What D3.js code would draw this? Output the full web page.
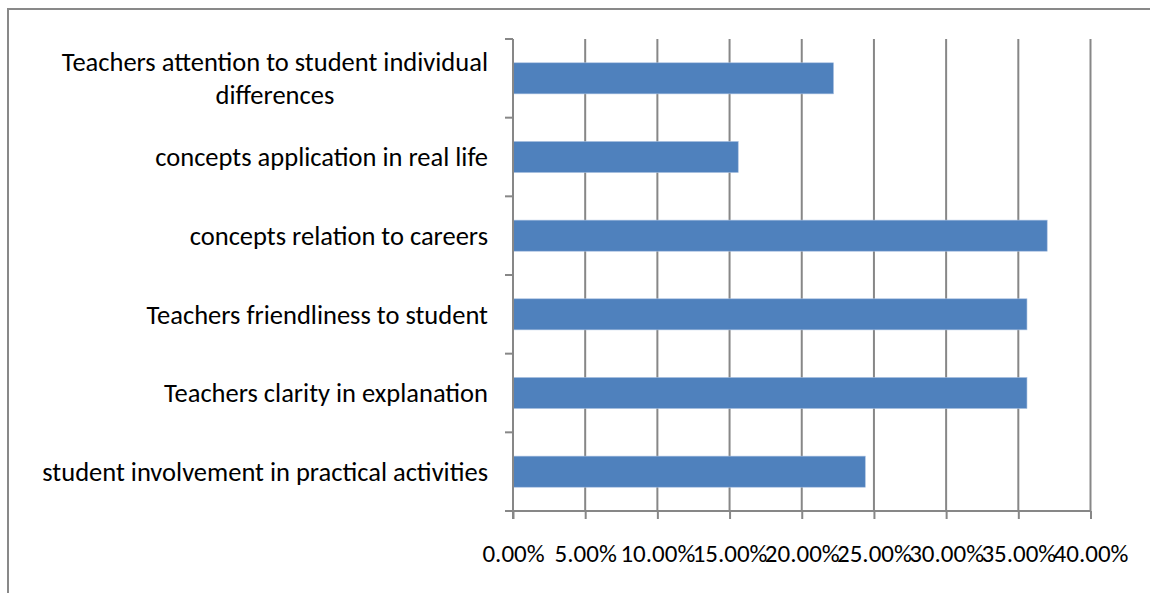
<!DOCTYPE html>
<html>
<head>
<meta charset="utf-8">
<script src="https://cdn.jsdelivr.net/npm/d3@7"></script>
<style>
  body { margin: 0; background: #fff; }
  text { font-family: Carlito, Calibri, Lato, sans-serif; fill: #000; }
</style>
</head>
<body>
<script>
// data, top to bottom as shown
let categories = [
  "Teachers attention to student individual differences",
  "concepts application in real life",
  "concepts relation to careers",
  "Teachers friendliness to student",
  "Teachers clarity in explanation",
  "student involvement in practical activities"
];
let labelLines = [
  ["Teachers attention to student individual", "differences"],
  ["concepts application in real life"],
  ["concepts relation to careers"],
  ["Teachers friendliness to student"],
  ["Teachers clarity in explanation"],
  ["student involvement in practical activities"]
];
let percents = [0.222, 0.156, 0.370, 0.356, 0.356, 0.244];
let tickValues = [0, 0.05, 0.10, 0.15, 0.20, 0.25, 0.30, 0.35, 0.40];

let margin = null, width = null, height = null;
let svg = null;
let x, y = null;

setupCanvasSize();
appendSvg("body");
setupXScale();
setupYScale();
appendGrid();
appendBars();
appendXAxis();
appendYAxis();

function setupCanvasSize() {
  margin = {top: 39, left: 513, bottom: 82, right: 59.5};
  width = 1150 - margin.left - margin.right;
  height = 593 - margin.top - margin.bottom;
}

function appendSvg(domElement) {
  let root = d3.select(domElement).append("svg")
    .attr("width", 1150)
    .attr("height", 593);

  // outer chart border (runs off the right and bottom edge)
  root.append("rect")
    .attr("x", 8).attr("y", 9)
    .attr("width", 1160).attr("height", 600)
    .attr("fill", "none")
    .attr("stroke", "#898989")
    .attr("stroke-width", 2);

  svg = root.append("g")
    .attr("transform", `translate(${margin.left}, ${margin.top})`);
}

function setupXScale() {
  x = d3.scaleLinear()
    .domain([0, 0.40])
    .range([0, width]);
}

function setupYScale() {
  y = d3.scaleBand()
    .domain(categories)
    .range([0, height])
    .paddingInner(0.605)
    .paddingOuter(0.3025);
}

function appendGrid() {
  svg.append("g")
    .selectAll("line")
    .data(tickValues.slice(1))
    .enter().append("line")
    .attr("x1", d => x(d)).attr("x2", d => x(d))
    .attr("y1", 0).attr("y2", height)
    .attr("stroke", "#878787")
    .attr("stroke-width", 2);
}

function appendBars() {
  svg.selectAll(".bar")
    .data(percents)
    .enter().append("rect")
    .attr("class", "bar")
    .attr("x", 0)
    .attr("y", (d, i) => y(categories[i]))
    .attr("width", d => x(d))
    .attr("height", y.bandwidth())
    .attr("fill", "#4f81bd")
    .attr("stroke", "#a9c0e0")
    .attr("stroke-width", 0.6);
}

function appendXAxis() {
  let g = svg.append("g")
    .attr("transform", `translate(0, ${height})`)
    .call(d3.axisBottom(x)
      .tickValues(tickValues)
      .tickSize(8)
      .tickSizeOuter(0)
      .tickPadding(25)
      .tickFormat(d => (d * 100).toFixed(2) + "%"));
  g.select(".domain").attr("stroke", "#878787").attr("stroke-width", 2)
    .attr("d", `M-8,0H${width}`);
  g.selectAll(".tick line").attr("stroke", "#878787").attr("stroke-width", 2);
  g.selectAll(".tick text")
    .style("font-size", "25px")
    .attr("fill", "#000");
}

function appendYAxis() {
  let step = y.step();
  let g = svg.append("g");
  // axis line
  g.append("line")
    .attr("x1", 0).attr("x2", 0)
    .attr("y1", 0).attr("y2", height + 8)
    .attr("stroke", "#878787").attr("stroke-width", 2);
  // tick marks at category boundaries
  g.selectAll(".ytick")
    .data(d3.range(categories.length + 1))
    .enter().append("line")
    .attr("class", "ytick")
    .attr("x1", -8).attr("x2", 0)
    .attr("y1", i => i * step).attr("y2", i => i * step)
    .attr("stroke", "#878787").attr("stroke-width", 2);

  // category labels
  let labels = g.selectAll(".ylabel")
    .data(labelLines)
    .enter().append("text")
    .attr("class", "ylabel")
    .style("font-size", "26.5px")
    .attr("text-anchor", "middle");

  labels.each(function(lines, i) {
    let t = d3.select(this);
    let cy = y(categories[i]) + y.bandwidth() / 2;
    let lh = 33;
    lines.forEach((ln, j) => {
      t.append("tspan")
        .attr("x", 0)
        .attr("y", cy + (j - (lines.length - 1) / 2) * lh)
        .attr("dy", "0.35em")
        .text(ln);
    });
  });

  // right-align the block, center lines inside it
  labels.each(function() {
    let t = d3.select(this);
    let w = this.getBBox().width;
    t.selectAll("tspan").attr("x", -25 - w / 2);
  });
}
</script>
</body>
</html>
